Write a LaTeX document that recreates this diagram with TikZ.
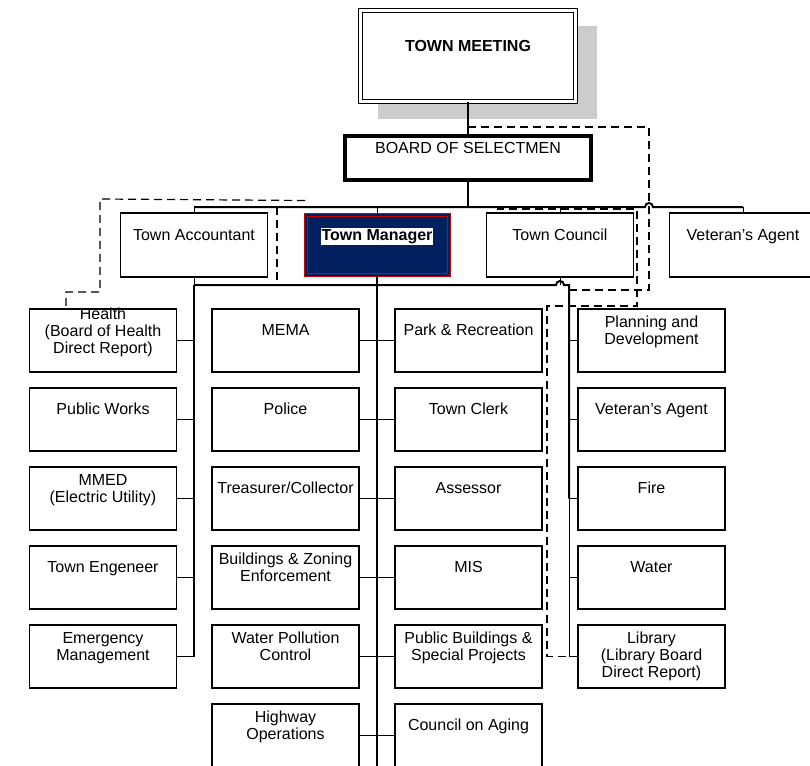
\documentclass[tikz,border=0pt]{standalone}
\usepackage{fontspec}
\setmainfont{Liberation Sans}
\usetikzlibrary{shadows}

\definecolor{tmnavy}{RGB}{0,32,96}
\definecolor{tmred}{RGB}{204,0,0}
\definecolor{shadowgray}{RGB}{204,204,204}

\tikzset{
  unit/.style={draw, line width=1.2pt, fill=white, minimum width=147pt, minimum height=63pt,
    inner sep=0pt, align=center, font=\fontsize{16}{17}\selectfont, text depth=21pt},
  threeline/.style={text height=40pt, text depth=14pt},
  centred/.style={text depth=4pt},
  trunk/.style={line width=2pt},
  link/.style={line width=1pt},
  dashline/.style={line width=1.2pt, dash pattern=on 8pt off 5pt},
}

\begin{document}
\begin{tikzpicture}[x=1pt, y=-1pt]
	\useasboundingbox (0,0) rectangle (810,765);
	\clip (0,0) rectangle (810,765);

	% Top of the chart
	\node[unit, double, double distance=3pt, line width=1pt, minimum width=215pt, minimum height=91pt,
	  font=\fontsize{16}{17}\selectfont\bfseries,
	  general shadow={fill=shadowgray, draw=none, shadow xshift=19pt, shadow yshift=-16pt, shadow scale=1.02}]
	  (meeting) at (468,56) {TOWN MEETING};
	\node[unit, line width=4pt, minimum width=246pt, minimum height=44pt] (selectmen) at (468,158) {BOARD OF SELECTMEN};

	% First row
	\node[unit, minimum height=64pt] (accountant) at (194,245) {Town Accountant};
	\node[unit, draw=tmred, double=tmnavy, double distance=2pt, line width=1pt, fill=tmnavy,
	  minimum width=143pt, minimum height=60pt, font=\fontsize{16}{17}\selectfont\bfseries]
	  (manager) at (377,245) {{\fboxsep=1pt\colorbox{white}{Town Manager}}};
	\node[unit, minimum height=64pt] (council) at (560,245) {Town Council};
	\node[unit, minimum height=64pt] (vetagent) at (743,245) {Veteran's Agent};

	% Left column
	\node[unit, threeline] (health) at (103,340.5) {Health\\(Board of Health\\Direct Report)};
	\node[unit] (works) at (103,419.5) {Public Works};
	\node[unit] (mmed) at (103,498.5) {MMED\\(Electric Utility)};
	\node[unit] (engineer) at (103,577.5) {Town Engeneer};
	\node[unit] (emergency) at (103,656.5) {Emergency\\Management};

	% Town Manager, left side
	\node[unit] (mema) at (285.5,340.5) {MEMA};
	\node[unit] (police) at (285.5,419.5) {Police};
	\node[unit] (treasurer) at (285.5,498.5) {Treasurer/Collector};
	\node[unit] (zoning) at (285.5,577.5) {Buildings \& Zoning\\Enforcement};
	\node[unit] (pollution) at (285.5,656.5) {Water Pollution\\Control};
	\node[unit] (highway) at (285.5,735.5) {Highway\\Operations};

	% Town Manager, right side
	\node[unit] (parks) at (468.5,340.5) {Park \& Recreation};
	\node[unit] (clerk) at (468.5,419.5) {Town Clerk};
	\node[unit] (assessor) at (468.5,498.5) {Assessor};
	\node[unit] (mis) at (468.5,577.5) {MIS};
	\node[unit] (pubbuild) at (468.5,656.5) {Public Buildings \&\\Special Projects};
	\node[unit] (aging) at (468.5,735.5) {Council on Aging};

	% Right column
	\node[unit] (planning) at (651.5,340.5) {Planning and\\Development};
	\node[unit] (veteran) at (651.5,419.5) {Veteran's Agent};
	\node[unit] (fire) at (651.5,498.5) {Fire};
	\node[unit] (water) at (651.5,577.5) {Water};
	\node[unit, centred] (library) at (651.5,656.5) {Library\\(Library Board\\Direct Report)};

	% Buses
	\coordinate (topbus) at (0,207);
	\coordinate (lowbus) at (0,285);
	\coordinate (rtrunk) at (569,0);
	\coordinate (hop) at (649,207);

	\draw[link, line width=1.3pt] (meeting.south) -- (selectmen.north);
	\draw[trunk] (selectmen.south) -- (selectmen.south |- topbus);
	\draw[trunk] (accountant.north |- topbus) -- ([xshift=-4pt]hop) arc[start angle=180, end angle=360, radius=4]
	  -- (vetagent.north |- topbus);
	\foreach \n in {accountant, manager, council, vetagent}
	  \draw[link] (\n.north) -- (\n.north |- topbus);

	\draw[link] (accountant.south) -- (accountant.south |- lowbus);
	\draw[link] (council.south) -- (council.south |- lowbus);
	\draw[trunk] (accountant.south |- lowbus) -- ([xshift=-4pt]council.south |- lowbus)
	  arc[start angle=180, end angle=360, radius=4] -- (rtrunk |- lowbus) -- (rtrunk |- fire);
	\draw[link] (rtrunk |- fire) -- (rtrunk |- library);
	\draw[trunk] (accountant.south |- lowbus) -- (accountant.south |- emergency);
	\draw[trunk] (manager.south) -- (manager.south |- highway.south);

	% Branches
	\foreach \n in {health, works, mmed, engineer, emergency}
	  \draw[link] (\n.east) -- (\n.east -| accountant.south);
	\foreach \n in {mema, police, treasurer, zoning, pollution, highway}
	  \draw[link] (\n.east) -- (\n.east -| manager.south);
	\foreach \n in {parks, clerk, assessor, mis, pubbuild, aging}
	  \draw[link] (\n.west) -- (\n.west -| manager.south);
	\foreach \n in {planning, veteran, fire}
	  \draw[link, line width=1.5pt] (\n.west) -- (\n.west -| rtrunk);
	\foreach \n in {water, library}
	  \draw[link, line width=0.8pt] (\n.west) -- (\n.west -| rtrunk);

	% Dashed reporting lines
	\draw[dashline] ([yshift=14pt]manager.north west) -- (100,199) -- (100,292) -- (66,292) -- (66,292 |- health.north);
	\draw[dashline] (277,0 |- topbus) -- (277,0 |- lowbus);
	\draw[dashline] ([yshift=7pt]selectmen.north) -| (649,290) -- (rtrunk |- 0,290);
	\draw[dashline] (498,0 |- topbus) -- (498,209) -- (637,209) -- (637,306) -- (547,306) -- (547,0 |- library)
	  -- (rtrunk |- library);

\end{tikzpicture}
\end{document}
